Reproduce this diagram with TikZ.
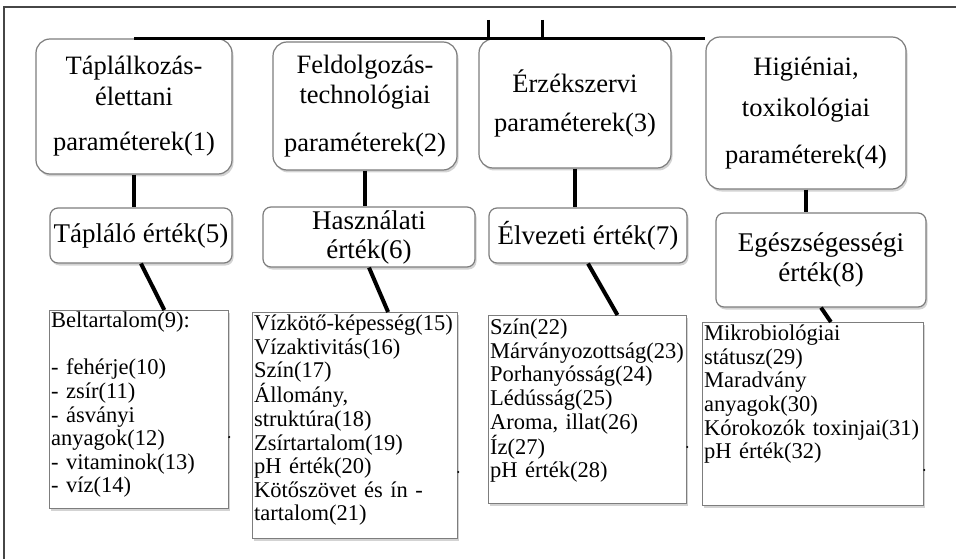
\documentclass[tikz,border=0pt]{standalone}
\usepackage{fontspec}
\setmainfont{Liberation Serif}
\definecolor{boxgray}{RGB}{125,125,125}
\definecolor{framegray}{RGB}{70,70,70}
\usetikzlibrary{calc}
\usetikzlibrary{positioning}
\usetikzlibrary{shadows}
\tikzset{
  param/.style={draw=boxgray, line width=1.2pt, fill=white, rounded corners=14pt, inner sep=0pt,
    align=center, font=\fontsize{26.5}{31}\selectfont,
    drop shadow={shadow xshift=1.5pt, shadow yshift=-2.5pt, opacity=.35}},
  value/.style={param, rounded corners=8pt, font=\fontsize{27}{29}\selectfont},
  itembox/.style={draw=boxgray, line width=1.2pt, fill=white, inner xsep=1.5pt, inner ysep=0pt,
    anchor=north west, align=left, font=\fontsize{22.5}{23.6}\selectfont,
    drop shadow={shadow xshift=1.5pt, shadow yshift=-2.5pt, opacity=.35}},
  link/.style={line width=4pt},
  bus/.style={line width=3pt}
}

\begin{document}
\begin{tikzpicture}[x=1pt,y=-1pt]
  \useasboundingbox (0,0) rectangle (956,559);
  \draw [framegray, line width=1.5pt] (4,559) -- (4,7) -- (956,7);

  % parameter groups
  \node [param, minimum width=196pt, minimum height=135pt] (t1) at (134,106.5) {Táplálkozás-\\élettani\\[14pt]paraméterek(1)};
  \node [param, minimum width=184pt, minimum height=128pt] (t2) at (365,106) {Feldolgozás-\\[-1pt]technológiai\\[17pt]paraméterek(2)};
  \node [param, minimum width=192pt, minimum height=129pt] (t3) at (575,103.5) {Érzékszervi\\[8pt]paraméterek(3)};
  \node [param, minimum width=200pt, minimum height=152pt] (t4) at (806,113) {Higiéniai,\\[10pt]toxikológiai\\[16pt]paraméterek(4)};

  % values
  \node [value, minimum width=182pt, minimum height=55pt] (m5) at (141,235.5) {Tápláló érték(5)};
  \node [value, minimum width=212pt, minimum height=60pt] (m6) at (369,237) {Használati\\érték(6)};
  \node [value, minimum width=198pt, minimum height=55pt] (m7) at (588,235.5) {Élvezeti érték(7)};
  \node [value, minimum width=210pt, minimum height=94pt] (m8) at (821,260) {Egészségességi\\[1pt]érték(8)};

  % items
  \node [itembox, text width=176pt, text height=17pt, text depth=181pt] (b9) at (49,310)
    {Beltartalom(9):\\[23.6pt]- fehérje(10)\\- zsír(11)\\- ásványi\\anyagok(12)\\- vitaminok(13)\\- víz(14)};
  \node [itembox, text width=202pt, text height=18pt, text depth=208pt] (b15) at (252,312)
    {Vízkötő-képesség(15)\\Vízaktivitás(16)\\Szín(17)\\Állomány,\\struktúra(18)\\Zsírtartalom(19)\\pH érték(20)\\Kötőszövet és ín -\\tartalom(21)};
  \node [itembox, text width=195pt, text height=19pt, text depth=169pt] (b22) at (488,315)
    {Szín(22)\\Márványozottság(23)\\Porhanyósság(24)\\Lédússág(25)\\Aroma, illat(26)\\Íz(27)\\pH érték(28)};
  \node [itembox, text width=218pt, text height=18pt, text depth=165pt] (b29) at (702,322)
    {Mikrobiológiai\\státusz(29)\\Maradvány\\anyagok(30)\\Kórokozók toxinjai(31)\\pH érték(32)};

  % tree lines
  \coordinate (up1) at (488,20);
  \coordinate (up2) at (542,20);
  \draw [bus] (t1.north) -- (t1.north -| t4.north west);
  \draw [bus] (up1) -- (up1 |- t1.north);
  \draw [bus] (up2) -- (up2 |- t1.north);

  \draw [link] (t1.south) -- (t1.south |- m5.north);
  \draw [link] (t2.south) -- (t2.south |- m6.north);
  \draw [link] (t3.south) -- (t3.south |- m7.north);
  \draw [link] (t4.south) -- (t4.south |- m8.north);

  \draw [link] (m5.south) -- ($(b9.north west)!0.64!(b9.north east)$);
  \draw [link] (m6.south) -- ($(b15.north west)!0.66!(b15.north east)$);
  \draw [link] (m7.south) -- ($(b22.north west)!0.65!(b22.north east)$);
  \draw [link] (m8.south) -- ($(b29.north west)!0.58!(b29.north east)$);

  \fill (b9.east |- 0,437) circle (1.2pt);
  \fill (b15.east |- 0,472) circle (1.2pt);
  \fill (b22.east |- 0,447) circle (1.2pt);
  \fill (b29.east |- 0,470) circle (1.2pt);
\end{tikzpicture}
\end{document}
